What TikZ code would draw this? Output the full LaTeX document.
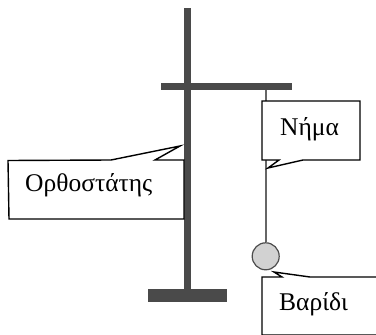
\documentclass[tikz,border=0pt]{standalone}
\usepackage{fontspec}
\setmainfont{Liberation Serif}
\tikzset{
    stand/.style={fill=standgray, draw=none},
    callout/.style={draw=black, fill=white, line width=1.4pt, line join=miter},
    calloutlabel/.style={anchor=base west, inner sep=0pt, font=\fontsize{25.5}{28}\selectfont},
}
\definecolor{standgray}{HTML}{4A4A4A}
\definecolor{bobgray}{HTML}{D2D2D2}
\begin{document}
\begin{tikzpicture}[x=1pt, y=-1pt]
        \useasboundingbox (0,0) rectangle (376,335);
        \clip (0,0) rectangle (376,335);
        \fill[stand] (184,8) rectangle (191,295);
        \fill[stand] (161,83) rectangle (292,90);
        \fill[stand] (148,289) rectangle (227,302);
        \coordinate (hook) at (265.7,90);
        \node[circle, draw=black!70, fill=bobgray, line width=1.2pt, minimum size=27pt, inner sep=0pt] (bob) at (265.7,256.3) {};
        \draw[black!60, line width=1.6pt] (hook) -- (bob);
        \draw[callout] (8,160.5) -- (111,160) -- (180,146) -- (155,160) -- (184,160) -- (184,219) -- (9,219) -- cycle;
        \draw[callout] (262,101) -- (360,101) -- (360,160) -- (303,160) -- (268,168) -- (279,160) -- (262,160) -- cycle;
        \draw[callout] (262,277) -- (282,277) -- (274,272) -- (310,277) -- (378,277) -- (378,335) -- (262,335) -- cycle;
        \node[calloutlabel] (rod) at (25,191) {Ορθοστάτης};
        \node[calloutlabel] (thread) at (280,135) {Νήμα};
        \node[calloutlabel] (weight) at (279,310) {Βαρίδι};
    \end{tikzpicture}
\end{document}
